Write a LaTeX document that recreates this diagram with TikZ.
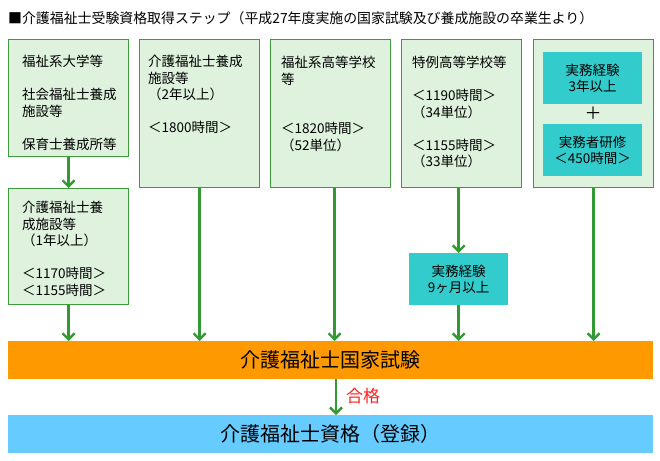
\documentclass[tikz,border=0pt]{standalone}
\usepackage{fontspec}
\newfontfamily\jp{Noto Sans CJK JP}
\usetikzlibrary{arrows.meta}
\definecolor{boxfill}{HTML}{DEF2DE}
\definecolor{boxline}{HTML}{3C9C3C}
\definecolor{arrowgreen}{HTML}{339933}
\definecolor{cyanbox}{HTML}{33CCCC}
\definecolor{examorange}{HTML}{FF9900}
\definecolor{certblue}{HTML}{66CCFF}
\definecolor{passred}{HTML}{FF2020}
\begin{document}
\begin{tikzpicture}[x=1pt,y=-1pt,
  every node/.style={font=\jp\fontsize{13.5}{16.5}\selectfont},
  gbox/.style={draw=boxline, line width=1.2pt, fill=boxfill, anchor=north west, inner sep=0pt, minimum width=120pt},
  cbox/.style={fill=cyanbox, anchor=north west, inner sep=0pt, minimum width=99pt, minimum height=52pt},
  cbtext/.style={align=center, inner sep=0pt},
  btext/.style={align=left, anchor=north west, inner sep=0pt},
  bar/.style={anchor=north west, inner sep=0pt, minimum width=645pt, minimum height=38pt},
  flow/.style={draw=arrowgreen, line width=2.6pt, -{Straight Barb[length=6pt,width=12pt,line width=2.4pt]}}
]
\useasboundingbox (0,0) rectangle (660,460);
\node[anchor=west, inner sep=0pt, font=\jp\fontsize{13.9}{16.5}\selectfont] (title) at (8,18) {■介護福祉士受験資格取得ステップ（平成27年度実施の国家試験及び養成施設の卒業生より）};

\node[gbox, minimum height=117pt] (b1) at (8,39) {};
\node[gbox, minimum height=148pt] (b2) at (139,39) {};
\node[gbox, minimum height=148pt] (b3) at (270,39) {};
\node[gbox, minimum height=148pt] (b4) at (401,39) {};
\node[gbox, minimum height=148pt] (b5) at (533,39) {};
\node[gbox, minimum height=116pt] (b1b) at (8,188) {};

\node[btext] (t1) at (22,55) {福祉系大学等\\[16.5pt]社会福祉士養成\\施設等\\[16.5pt]保育士養成所等};
\node[btext] (t2) at (148,55) {介護福祉士養成\\施設等\\（2年以上）\\[16.5pt]＜1800時間＞};
\node[btext] (t3) at (281,56) {福祉系高等学校\\等\\[33pt]＜1820時間＞\\（52単位）};
\node[btext] (t4) at (412,56) {特例高等学校等\\[16.5pt]＜1190時間＞\\（34単位）\\[16.5pt]＜1155時間＞\\（33単位）};
\node[btext] (t1b) at (22,201) {介護福祉士養\\成施設等\\（1年以上）\\[16.5pt]＜1170時間＞\\＜1155時間＞};

\node[cbox] (c1) at (543,52) {};
\node[cbtext] at (c1.center) {実務経験\\3年以上};
\node[font=\jp\fontsize{17}{20}\selectfont] (plus) at (593,113) {＋};
\node[cbox] (c2) at (543,124) {};
\node[cbtext] at (c2.center) {実務者研修\\＜450時間＞};
\node[cbox] (c9) at (409,253) {};
\node[cbtext] at (c9.center) {実務経験\\9ヶ月以上};

\node[bar, fill=examorange] (exam) at (8,341) {};
\node[font=\jp\fontsize{20}{24}\selectfont] at (exam.center) {介護福祉士国家試験};
\node[bar, fill=certblue] (cert) at (8,415) {};
\node[font=\jp\fontsize{20}{24}\selectfont] at (cert.center) {介護福祉士資格（登録）};

\draw[flow] (b1.south) -- (b1b.north);
\draw[flow] (b1b.south) -- (b1b.south |- exam.north);
\draw[flow] (b2.south) -- (b2.south |- exam.north);
\draw[flow] ([xshift=4pt]b3.south) -- ([xshift=4pt]b3.south |- exam.north);
\draw[flow] (b4.south -| c9.north) -- (c9.north);
\draw[flow] (c9.south) -- (c9.south |- exam.north);
\draw[flow] (b5.south) -- (b5.south |- exam.north);
\draw[flow] (exam.south -| 336,0) -- (cert.north -| 336,0);
\node[anchor=west, inner sep=0pt, text=passred, font=\jp\fontsize{17}{20}\selectfont] (pass) at (346,396) {合格};
\end{tikzpicture}
\end{document}
